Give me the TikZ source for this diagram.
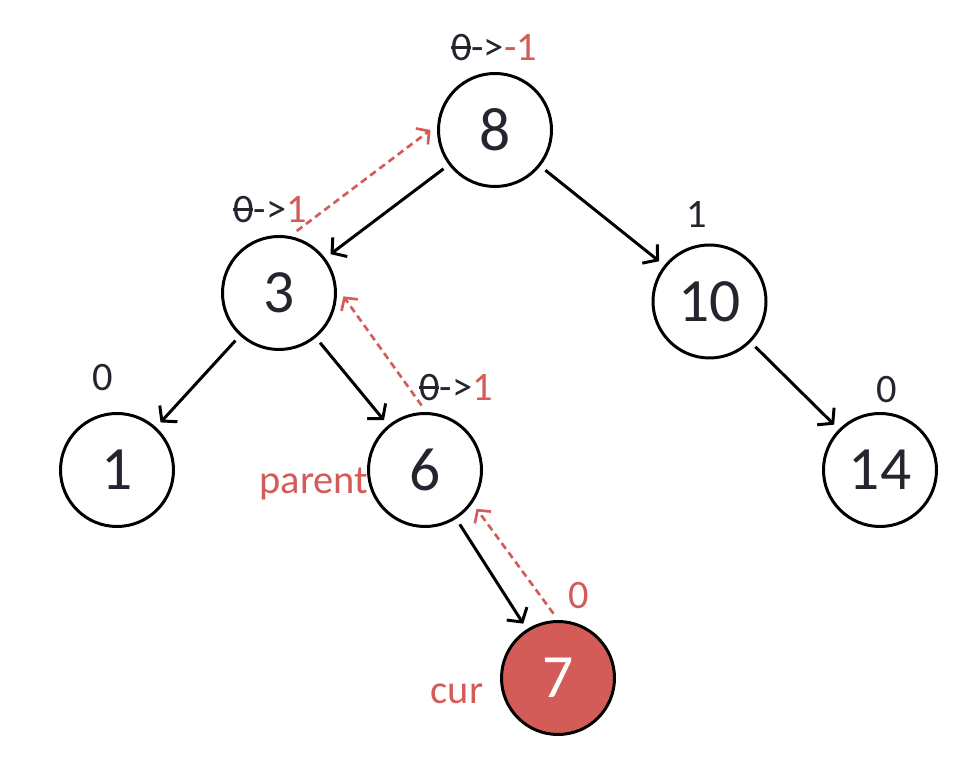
\documentclass[tikz,border=0pt]{standalone}
\usepackage{fontspec}
\setmainfont{Carlito}
\usetikzlibrary{arrows.meta}
\definecolor{hot}{RGB}{211,91,88}
\definecolor{ink}{RGB}{35,38,46}
\newcommand{\oldzero}{\makebox[0pt][l]{\raisebox{0.3em}{\rule{0.5em}{0.07em}}}0}
\begin{document}
\begin{tikzpicture}[thick,
    key/.style={circle, draw=black, line width=0.85pt, minimum size=1.13cm, inner sep=0pt,
      outer sep=0.8mm, text=ink, font=\fontsize{17.5}{19}\selectfont},
    bal/.style={text=ink, inner sep=0pt, font=\fontsize{11.5}{13}\selectfont},
    edge/.style={line width=0.85pt, -{Straight Barb[length=1mm,width=2.4mm,line width=0.85pt]}},
    back/.style={hot, line width=0.75pt, dash pattern=on 0.7mm off 0.45mm,
      -{Straight Barb[length=0.9mm,width=2mm,line width=0.75pt]}}]
    \useasboundingbox (0,0) rectangle (9.73,-7.69);
    \node[key] (n8) at (4.95,-1.30) {8};
    \node[key] (n3) at (2.79,-2.93) {3};
    \node[key] (n10) at (7.095,-3.015) {10};
    \node[key] (n1) at (1.17,-4.70) {1};
    \node[key] (n6) at (4.25,-4.70) {6};
    \node[key] (n14) at (8.80,-4.70) {14};
    \node[key, fill=hot, text=white] (n7) at (5.58,-6.78) {7};
    \draw[edge] (n8) -- (n3); \draw[edge] (n8) -- (n10);
    \draw[edge] (n3) -- (n1); \draw[edge] (n3) -- (n6);
    \draw[edge] (n10) -- (n14); \draw[edge] (n6) -- (n7);
    \draw[back] (n3.74) -- (n8.180);
    \draw[back] (n6.93) -- (n3.-3);
    \draw[back] (n7.94) -- (n6.-37);
    % balance factors
    \node[bal] (b8) at (4.94,-0.48) {\oldzero->\textcolor{hot}{-1}};
    \node[bal] (b3) at (2.70,-2.10) {\oldzero->\textcolor{hot}{1}};
    \node[bal] (b10) at (6.97,-2.15) {1};
    \node[bal] (b1) at (1.03,-3.78) {0};
    \node[bal] (b6) at (4.56,-3.88) {\oldzero->\textcolor{hot}{1}};
    \node[bal] (b14) at (8.87,-3.90) {0};
    \node[bal, text=hot] (b7) at (5.79,-5.96) {0};
    \node[bal, text=hot] (parent) at (3.14,-4.84) {parent};
    \node[bal, text=hot] (cur) at (4.57,-6.94) {cur};
\end{tikzpicture}
\end{document}
